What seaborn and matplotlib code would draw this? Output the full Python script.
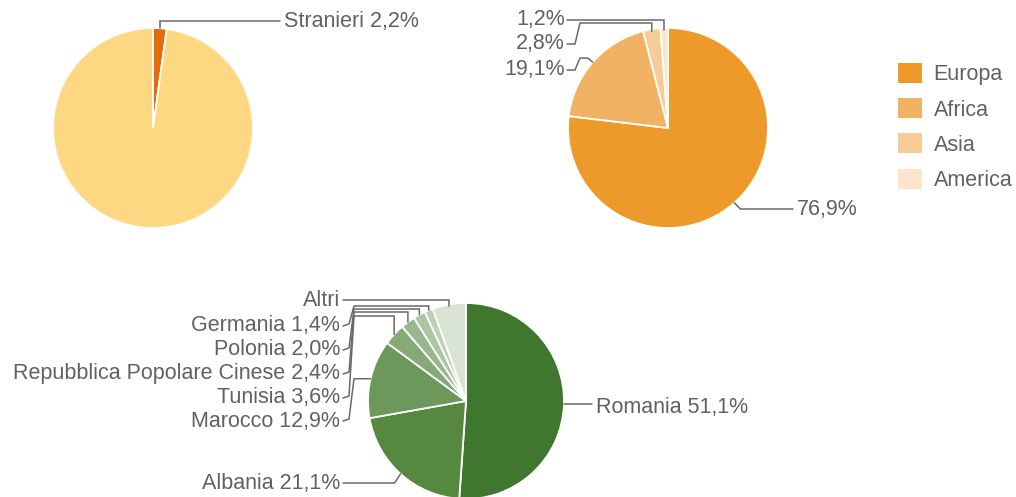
"""Cittadini stranieri: quota sul totale, continenti di provenienza, paesi."""

import matplotlib.pyplot as plt
import numpy as np
import seaborn as sns
from matplotlib.patches import Patch

# --- data -------------------------------------------------------------------
residenti = ["Stranieri", "Italiani"]
residenti_values = [2.2, 97.8]
residenti_colors = ["#e26b0a", "#fdd782"]

continenti = ["Europa", "Africa", "Asia", "America"]
continenti_values = [76.9, 19.1, 2.8, 1.2]
continenti_colors = ["#ee9a2b", "#f2b264", "#f6cb95", "#fbe6cc"]

paesi = [
    "Romania",
    "Albania",
    "Marocco",
    "Tunisia",
    "Repubblica Popolare Cinese",
    "Polonia",
    "Germania",
    "Altri",
]
paesi_values = [51.1, 21.1, 12.9, 3.6, 2.4, 2.0, 1.4, 5.5]
paesi_colors = [
    "#3f772f",
    "#56883f",
    "#6c995b",
    "#85aa77",
    "#98b88b",
    "#aac59f",
    "#bdd2b4",
    "#d9e4d4",
]

W, H = 1016, 497
TEXT_COLOR = "#616161"
LINE_COLOR = "#6a6a6a"
FONT_SIZE = 15.5

sns.set_theme(style="white")
plt.rcParams["font.family"] = ["Liberation Sans", "DejaVu Sans"]


def pct(value: float) -> str:
    return f"{value:.1f}".replace(".", ",") + "%"


def edge_point(center, radius, values, index, pad=0.0):
    """Point on the rim at the middle of wedge `index` (y axis points down)."""
    frac = (sum(values[:index]) + values[index] / 2) / sum(values)
    theta = np.deg2rad(-90 + 360 * frac)
    r = radius + pad
    return center[0] + r * np.cos(theta), center[1] + r * np.sin(theta)


def draw_pie(ax, values, colors, center, radius):
    ax.pie(
        values,
        colors=colors,
        center=center,
        radius=radius,
        startangle=-90,
        counterclock=True,
        wedgeprops=dict(edgecolor="white", linewidth=1.3),
    )


def leader(ax, points):
    xs, ys = zip(*points)
    ax.plot(xs, ys, color=LINE_COLOR, lw=1.1, solid_joinstyle="miter")


def label(ax, x, y, text, ha="left"):
    ax.text(x, y, text, ha=ha, va="center", color=TEXT_COLOR, fontsize=FONT_SIZE)


fig = plt.figure(figsize=(W / 100, H / 100), dpi=100)
ax = fig.add_axes([0, 0, 1, 1])

# --- top left: stranieri sul totale -----------------------------------------
c1, r1 = (153, 128), 100
draw_pie(ax, residenti_values, residenti_colors, c1, r1)
ex, ey = edge_point(c1, r1, residenti_values, 0)
leader(ax, [(ex, ey), (ex, 21), (280, 21)])
label(ax, 284, 21, f"{residenti[0]} {pct(residenti_values[0])}")

# --- top right: continenti --------------------------------------------------
c2, r2 = (668, 128), 100
draw_pie(ax, continenti_values, continenti_colors, c2, r2)

ex, ey = edge_point(c2, r2, continenti_values, 0)
leader(ax, [(ex, ey), (ex + 6, 209), (793, 209)])
label(ax, 797, 209, pct(continenti_values[0]))

ex, ey = edge_point(c2, r2, continenti_values, 1)
leader(ax, [(567, 70), (575, 70), (580, ey - 4), (ex - 5, ey - 4), (ex, ey)])
label(ax, 565, 70, pct(continenti_values[1]), ha="right")

ex, ey = edge_point(c2, r2, continenti_values, 2)
leader(ax, [(567, 44), (575, 44), (580, 23), (ex, 23), (ex, ey + 2)])
label(ax, 565, 44, pct(continenti_values[2]), ha="right")

ex, ey = edge_point(c2, r2, continenti_values, 3)
leader(ax, [(567, 20), (ex, 20), (ex, ey + 2)])
label(ax, 565, 19, pct(continenti_values[3]), ha="right")

legend = ax.legend(
    handles=[Patch(facecolor=c, edgecolor="none") for c in continenti_colors],
    labels=continenti,
    loc="upper left",
    bbox_to_anchor=(898 / W, 1 - 63 / H),
    bbox_transform=fig.transFigure,
    frameon=False,
    borderpad=0,
    borderaxespad=0,
    handlelength=1.1,
    handleheight=1.05,
    handletextpad=0.55,
    labelspacing=0.6,
    fontsize=FONT_SIZE,
)
for t in legend.get_texts():
    t.set_color(TEXT_COLOR)

# --- bottom: paesi ----------------------------------------------------------
c3, r3 = (466, 401), 98
draw_pie(ax, paesi_values, paesi_colors, c3, r3)

ex, ey = edge_point(c3, r3, paesi_values, 0)
leader(ax, [(ex, ey), (592, ey)])
label(ax, 596, ey + 3, f"{paesi[0]} {pct(paesi_values[0])}")

ex, ey = edge_point(c3, r3, paesi_values, 1)
leader(ax, [(343, 483), (ex - 6, 483), (ex, ey)])
label(ax, 340, 483, f"{paesi[1]} {pct(paesi_values[1])}", ha="right")

label_y = {2: 421, 3: 398, 4: 374, 5: 350, 6: 326}
bus_y = {3: 316, 4: 312, 5: 309, 6: 306}
for i, ly in label_y.items():
    ex, ey = edge_point(c3, r3, paesi_values, i)
    by = bus_y.get(i, ey)
    leader(ax, [(343, ly), (349, ly - 2), (354, by), (ex, by), (ex, ey)])
    label(ax, 340, ly, f"{paesi[i]} {pct(paesi_values[i])}", ha="right")

ex, ey = edge_point(c3, r3, paesi_values, 7)
leader(ax, [(343, 300), (ex, 300), (ex, ey + 2)])
label(ax, 340, 300, paesi[7], ha="right")

ax.set_xlim(0, W)
ax.set_ylim(H, 0)
ax.set_aspect("auto")
ax.axis("off")

fig.savefig("out.png", dpi=100)
plt.close(fig)
